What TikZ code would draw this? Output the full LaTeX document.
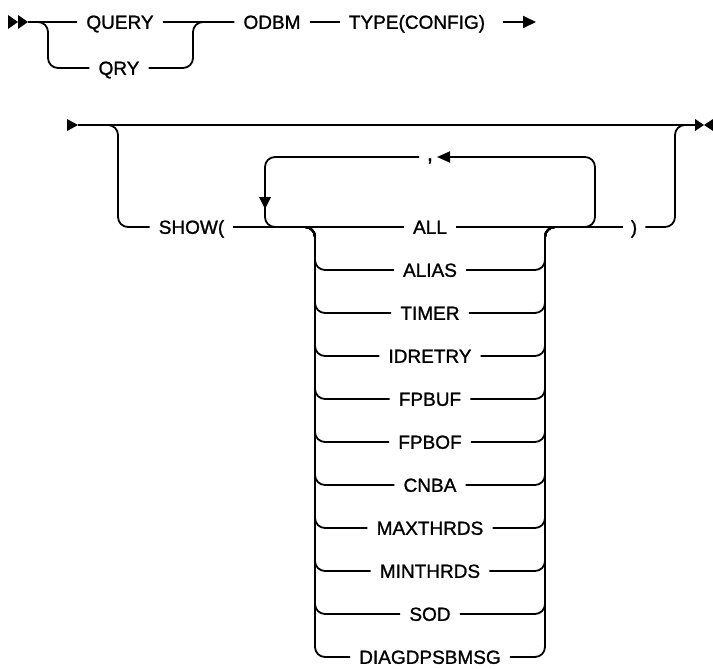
\documentclass[tikz,border=0pt]{standalone}
\usepackage{fontspec}
\setmainfont{Liberation Sans}[FakeBold=1.2]
\usetikzlibrary{arrows.meta}
\begin{document}
\begin{tikzpicture}[x=1pt,y=-1pt,
  rail/.style={line width=1.8pt, rounded corners=10pt},
  lbl/.style={font=\fontsize{19}{19}\selectfont, text height=13.6pt, text depth=0pt, inner ysep=0pt, inner xsep=9pt},
  endtip/.style={-{Triangle[length=13pt,width=12pt]}},
  loopTip/.style={-{Triangle[length=13pt,width=11pt]}}
]
\useasboundingbox (0,0) rectangle (713,669);

% ---------- row 1 ----------
\fill (8,15) -- (18,22) -- (8,29) -- cycle;
\fill (18,15) -- (28,22) -- (18,29) -- cycle;
\coordinate (s1) at (28,22);
\coordinate (e1) at (536,22);

\node[lbl] (query) at (120,22) {QUERY};
\node[lbl] (qry) at (119,68) {QRY};
\node[lbl] (odbm) at (272,22) {ODBM};
\node[lbl] (type) at (417,22) {TYPE(CONFIG)};

\draw[rail] (s1) -- (query.west);
\draw[rail] (s1) -- (48,22) -- (48,68) -- (qry.west);
\draw[rail] (qry.east) -- (193,68) -- (193,22) -- (odbm.west);
\draw[rail] (query.east) -- (odbm.west);
\draw[rail] (odbm.east) -- (type.west);
\draw[rail,endtip] ([xshift=9pt]type.east) -- (e1);

% ---------- row 2 ----------
\coordinate (s2) at (78,125);
\coordinate (e2) at (695,125);
\fill (67,119) -- (78,125) -- (67,131) -- cycle;
\fill (695,119) -- (704,125) -- (695,131) -- cycle;
\fill (713,119) -- (704,125) -- (713,131) -- cycle;
\draw[rail] (s2) -- (e2);

\node[lbl] (show) at (191.5,227) {SHOW(};
\node[lbl, inner xsep=8pt] (close) at (634,227) {)};

\foreach \t [count=\i] in {ALL,ALIAS,TIMER,IDRETRY,FPBUF,FPBOF,CNBA,MAXTHRDS,MINTHRDS,SOD,DIAGDPSBMSG}
  {\node[lbl] (opt\i) at (430,184+43*\i) {\t};}

\draw[rail] (s2) -- (118,125) -- (118,227) -- (show.west);
\draw[rail] (show.east) -- (opt1.west);
\draw[rail] (opt1.east) -- (close.west);
\foreach \i in {2,...,11}{
  \draw[rail] (show.east) -- (315,227) -- (315,184+43*\i) -- (opt\i.west);
  \draw[rail] (opt\i.east) -- (545,184+43*\i) -- (545,227) -- (close.west);
}
\draw[rail] (close.east) -- (675,227) -- (675,125) -- (e2);

% repeat loop
\node[lbl, inner xsep=0pt, font=\fontsize{22}{22}\selectfont] (comma) at (430,154) {,};
\coordinate (cl) at (419,157);
\coordinate (cr) at (437,157);
\draw[rail] (cl) -- (265,157) -- (265,227) -- (opt1.west);
\fill (259,197) -- (265,209) -- (271,197) -- cycle;
\draw[rail,loopTip] (opt1.east) -- (595,227) -- (595,157) -- (cr);
\end{tikzpicture}
\end{document}
